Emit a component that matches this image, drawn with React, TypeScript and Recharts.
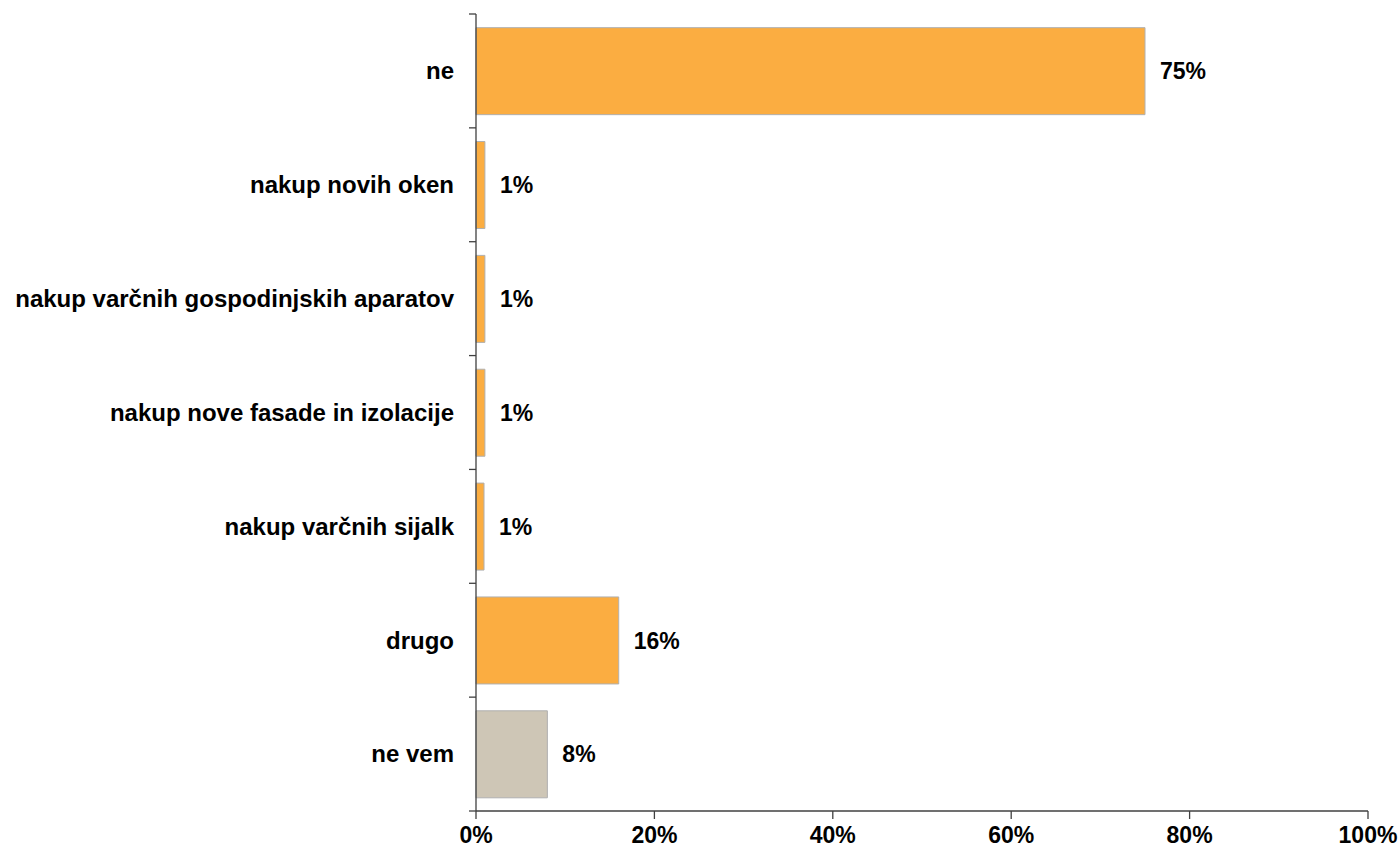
import { BarChart, Bar, XAxis, YAxis, Cell, LabelList } from 'recharts';

const categories = [
  'ne',
  'nakup novih oken',
  'nakup varčnih gospodinjskih aparatov',
  'nakup nove fasade in izolacije',
  'nakup varčnih sijalk',
  'drugo',
  'ne vem',
];
const values = [75, 1, 1, 1, 0.9, 16, 8];
const valueLabels = ['75%', '1%', '1%', '1%', '1%', '16%', '8%'];
const xTicks = [0, 20, 40, 60, 80, 100];

const ORANGE = '#FBAD41';
const BEIGE = '#CEC6B6';
const FONT = 'Arial, "Liberation Sans", sans-serif';

const W = 1398;
const H = 851;
const MARGIN = { top: 14, right: 30, bottom: 0, left: 0 };
const Y_AXIS_W = 476;
const X_AXIS_H = 40;
const bandSize = (H - MARGIN.top - MARGIN.bottom - X_AXIS_H) / categories.length;

const data = categories.map((name, i) => ({ name, value: values[i], label: valueLabels[i] }));

// category label plus tick marks on the band boundaries
const CategoryTick = ({ x, y, payload, index }: any) => {
  const top = y - bandSize / 2;
  const bottom = y + bandSize / 2;
  return (
    <g>
      <line x1={x} x2={x + 7} y1={top} y2={top} stroke="#404040" strokeWidth={1.3} />
      {index === categories.length - 1 && (
        <line x1={x} x2={x + 7} y1={bottom} y2={bottom} stroke="#404040" strokeWidth={1.3} />
      )}
      <text x={x - 15} y={y} dy="0.35em" textAnchor="end" fill="#000" fontSize={24} fontWeight="bold" fontFamily={FONT}>
        {payload.value}
      </text>
    </g>
  );
};

export default function App() {
  return (
    <div style={{ position: 'absolute', left: 0, top: 0, width: W, height: H, background: '#fff' }}>
      <BarChart width={W} height={H} data={data} layout="vertical" margin={MARGIN} barCategoryGap="12%">
        <XAxis
          type="number"
          domain={[0, 100]}
          ticks={xTicks}
          tickFormatter={(v) => `${v}%`}
          height={X_AXIS_H}
          axisLine={{ stroke: '#404040', strokeWidth: 1.3 }}
          tickLine={{ stroke: '#404040', strokeWidth: 1.3 }}
          tickSize={8}
          tickMargin={8}
          tick={{ fill: '#000', fontSize: 23, fontWeight: 'bold', fontFamily: FONT }}
          interval={0}
        />
        <YAxis
          type="category"
          dataKey="name"
          width={Y_AXIS_W}
          axisLine={{ stroke: '#404040', strokeWidth: 1.3 }}
          tickLine={false}
          tickSize={7}
          tickMargin={0}
          tick={<CategoryTick />}
          interval={0}
        />
        <Bar dataKey="value" stroke="#B0B0B0" strokeWidth={1} isAnimationActive={false}>
          {data.map((d, i) => (
            <Cell key={d.name} fill={i === data.length - 1 ? BEIGE : ORANGE} />
          ))}
          <LabelList dataKey="label" position="right" offset={15} fill="#000" fontSize={23} fontWeight="bold" fontFamily={FONT} />
        </Bar>
      </BarChart>
    </div>
  );
}
